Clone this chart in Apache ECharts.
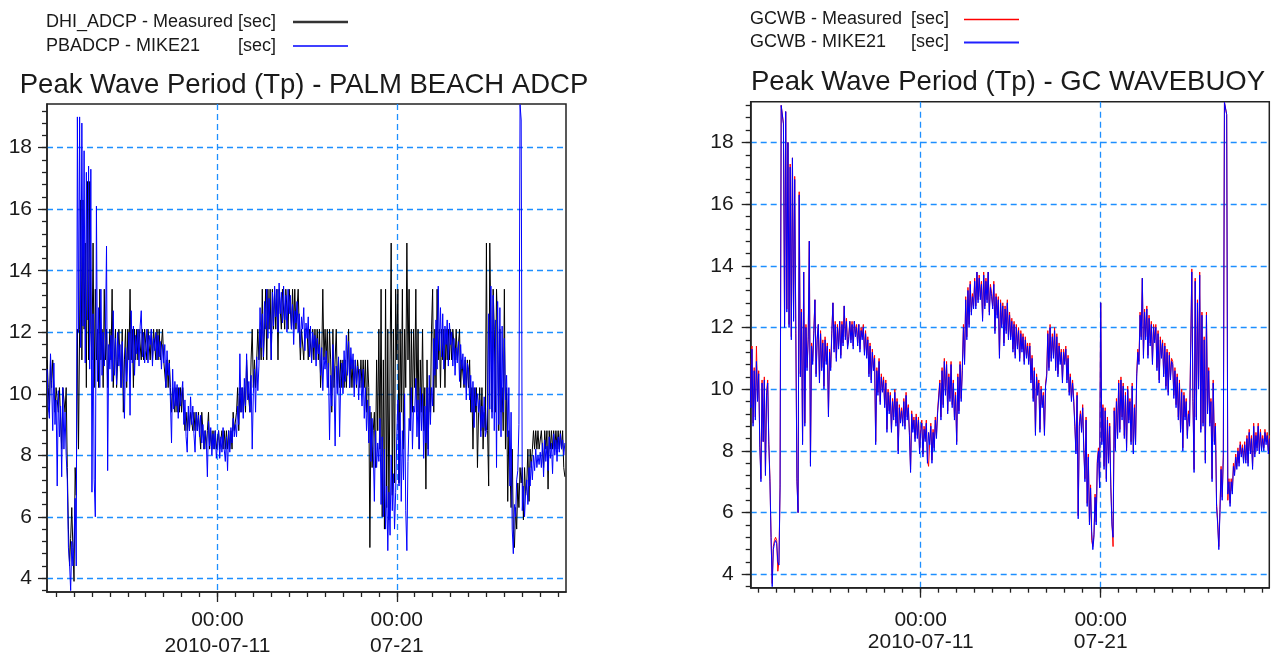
<!DOCTYPE html>
<html><head><meta charset="utf-8">
<script src="https://cdn.jsdelivr.net/npm/echarts@6/dist/echarts.min.js"></script>
<style>html,body{margin:0;padding:0;background:#fff}#c{width:1282px;height:662px}</style>
</head><body><div id="c"></div>
<script>
// ---- sampling: 1.5-hourly values starting 2010-07-01 12:00 (UTC) ----
const startTime = '2010-07-01T12:00:00Z';
const stepHours = 1.5;

// Left panel: DHI_ADCP measured (black)
const adcpMeasured = [
  11.1, 10.2, 9.4, 11.1, 10.2, 11.1, 10.2, 9.4,
  10.2, 10.2, 9.4, 10.2, 10.2, 8.2, 10.2, 10.2, 9.4, 10.2, 7.6, 5.6, 4.4, 5.3, 6.3, 5.0,
  3.9, 7.6, 6.7, 12.1, 8.2, 12.1, 16.3, 11.1, 16.3, 12.1, 14.9, 10.2, 16.9, 11.1, 16.9, 12.1,
  11.1, 14.9, 10.2, 13.4, 11.1, 12.1, 10.2, 13.4, 11.1, 12.1, 10.2, 13.4, 11.1, 12.1, 10.2, 11.1,
  12.1, 11.1, 13.4, 10.2, 11.1, 12.1, 10.2, 11.1, 12.1, 11.1, 10.2, 12.1, 9.4, 11.1, 12.1, 10.2,
  12.1, 11.1, 13.4, 11.1, 12.1, 10.2, 12.1, 11.1, 12.1, 11.1, 12.1, 12.1, 11.1, 12.1, 11.1, 12.1,
  12.1, 11.1, 12.1, 12.1, 11.1, 12.1, 11.1, 12.1, 12.1, 11.1, 12.1, 11.1, 12.1, 11.1, 11.1, 12.1,
  11.1, 11.1, 10.2, 11.1, 10.2, 11.1, 10.2, 9.4, 10.2, 10.2, 9.4, 10.2, 9.4, 10.2, 9.4, 10.2,
  9.4, 10.2, 9.4, 8.8, 9.4, 8.8, 9.4, 8.8, 9.4, 9.4, 8.8, 9.4, 8.8, 9.4, 8.8, 9.4,
  8.8, 8.2, 9.4, 8.8, 8.2, 8.8, 8.2, 8.8, 9.4, 8.2, 8.8, 8.2, 8.8, 8.2, 8.8, 8.2,
  8.2, 8.8, 8.2, 8.2, 8.8, 8.2, 8.8, 8.2, 8.8, 8.2, 8.8, 8.2, 8.8, 8.2, 9.4, 8.8,
  8.8, 9.4, 10.2, 8.8, 10.2, 9.4, 10.2, 9.4, 10.2, 9.4, 11.1, 10.2, 10.2, 9.4, 11.1, 12.1,
  10.2, 11.1, 10.2, 11.1, 12.1, 11.1, 12.1, 11.1, 13.4, 11.1, 12.1, 13.4, 11.1, 13.4, 12.1, 13.4,
  11.1, 13.4, 12.1, 13.4, 12.1, 13.4, 11.1, 13.4, 13.4, 12.1, 13.4, 13.4, 12.1, 13.4, 13.4, 12.1,
  13.4, 13.4, 12.1, 13.4, 12.1, 13.4, 12.1, 12.1, 13.4, 12.1, 11.1, 12.1, 12.1, 11.1, 12.1, 12.1,
  12.1, 11.1, 12.1, 12.1, 11.1, 12.1, 11.1, 12.1, 11.1, 12.1, 11.1, 12.1, 10.2, 11.1, 13.4, 11.1,
  12.1, 11.1, 12.1, 10.2, 12.1, 11.1, 9.4, 12.1, 10.2, 11.1, 12.1, 10.2, 11.1, 10.2, 11.1, 10.2,
  11.1, 10.2, 11.1, 10.2, 11.1, 12.1, 10.2, 11.1, 10.2, 11.1, 10.2, 11.1, 10.2, 11.1, 11.1, 10.2,
  11.1, 10.2, 11.1, 10.2, 11.1, 9.4, 11.1, 10.2, 5.0, 9.4, 7.6, 8.8, 9.4, 7.6, 11.1, 8.8,
  12.1, 8.2, 13.4, 6.0, 11.1, 5.6, 13.4, 6.3, 12.1, 5.9, 11.1, 14.9, 6.7, 12.1, 7.1, 13.4,
  11.1, 13.4, 7.1, 12.1, 9.4, 13.4, 8.2, 12.1, 10.2, 14.9, 11.1, 13.4, 8.8, 12.1, 9.4, 12.1,
  10.2, 13.4, 9.4, 12.1, 8.2, 11.1, 9.4, 12.1, 8.8, 10.2, 6.9, 11.1, 8.2, 10.2, 9.4, 12.1,
  13.4, 9.4, 12.1, 10.2, 13.4, 11.1, 12.1, 10.2, 12.1, 11.1, 12.1, 10.2, 12.1, 11.1, 12.1, 11.1,
  12.1, 11.1, 12.1, 12.1, 11.1, 12.1, 11.1, 11.1, 12.1, 10.2, 11.1, 11.1, 10.2, 11.1, 10.2, 11.1,
  10.2, 11.1, 9.4, 10.2, 8.2, 10.2, 9.4, 10.2, 7.6, 9.4, 10.2, 8.8, 10.2, 8.2, 9.4, 8.8,
  14.9, 8.8, 7.0, 14.9, 12.1, 9.4, 13.4, 12.1, 9.4, 13.4, 12.1, 8.8, 12.1, 9.4, 10.2, 8.8,
  13.4, 8.2, 10.2, 6.5, 8.8, 7.6, 6.3, 8.2, 5.6, 5.0, 6.3, 5.6, 7.1, 6.3, 7.6, 7.1,
  7.6, 5.9, 7.6, 6.7, 7.1, 8.2, 6.5, 8.2, 7.6, 8.2, 8.8, 8.2, 8.8, 8.2, 8.8, 8.2,
  8.2, 8.8, 8.2, 7.6, 8.8, 8.2, 8.8, 6.9, 8.8, 8.2, 8.8, 8.2, 8.8, 8.2, 8.8, 8.2,
  8.8, 8.2, 8.8, 8.2, 8.8, 7.6, 7.3
];
// Left panel: PBADCP MIKE21 (blue)
const pbadcpModel = [
  10.8, 9.6, 9.2, 11.3, 10.4, 8.8, 11.0, 9.0,
  9.8, 7.0, 10.1, 8.6, 9.6, 7.3, 10.2, 8.2, 9.4, 8.0, 7.2, 5.0, 4.5, 3.6, 5.2, 4.4,
  5.2, 6.6, 4.4, 19.0, 12.0, 19.0, 11.5, 18.8, 12.2, 17.9, 11.0, 17.2, 12.4, 17.4, 10.8, 17.3,
  6.8, 12.6, 7.2, 6.0, 16.1, 10.4, 12.8, 10.2, 13.4, 10.6, 12.0, 10.9, 11.8, 14.8, 7.5, 11.6,
  10.8, 11.9, 10.4, 12.7, 10.6, 11.8, 10.3, 12.0, 10.9, 11.6, 10.2, 11.7, 10.5, 9.2, 11.5, 10.4,
  11.2, 12.0, 9.3, 12.7, 11.0, 12.2, 10.6, 11.9, 11.3, 12.1, 10.9, 12.2, 12.7, 11.2, 12.0, 11.0,
  11.4, 12.1, 11.0, 11.9, 11.6, 12.1, 10.9, 11.8, 11.4, 12.0, 11.1, 11.9, 11.2, 11.7, 10.8, 11.6,
  11.0, 11.6, 10.2, 11.4, 10.6, 11.0, 9.8, 8.4, 10.8, 9.5, 10.4, 9.6, 10.3, 9.2, 10.2, 9.6,
  9.6, 10.4, 9.0, 9.8, 8.6, 8.1, 9.6, 8.8, 9.9, 9.0, 9.6, 8.7, 8.1, 9.4, 8.8, 9.3,
  8.6, 9.3, 8.4, 9.0, 8.2, 8.8, 8.5, 7.3, 9.1, 8.3, 8.9, 8.0, 8.7, 8.2, 8.8, 7.9,
  8.3, 8.8, 7.9, 8.6, 8.1, 8.9, 8.2, 7.8, 8.6, 7.5, 8.8, 8.1, 8.9, 8.4, 9.2, 8.6,
  9.0, 8.6, 9.6, 9.0, 11.3, 9.4, 10.2, 9.2, 10.5, 9.6, 11.3, 9.8, 10.4, 9.4, 10.6, 8.2,
  10.0, 10.8, 9.4, 11.2, 10.1, 10.9, 12.8, 11.5, 12.6, 11.2, 13.0, 12.1, 13.4, 11.8, 13.1, 12.4,
  11.1, 13.3, 12.2, 13.5, 12.5, 13.4, 12.0, 13.6, 12.6, 13.3, 12.3, 13.5, 12.4, 13.2, 12.0, 13.4,
  12.6, 13.2, 12.1, 12.9, 11.6, 12.7, 12.3, 13.0, 12.0, 12.6, 11.5, 12.5, 12.1, 12.8, 11.4, 12.3,
  11.8, 12.5, 11.2, 12.2, 11.0, 12.0, 11.5, 11.9, 10.9, 11.8, 11.3, 11.6, 10.6, 11.5, 10.1, 11.2,
  10.8, 11.4, 10.2, 11.0, 8.5, 10.6, 9.6, 11.6, 10.4, 8.3, 10.9, 10.0, 11.2, 8.6, 10.5, 11.0,
  10.0, 11.4, 10.4, 11.9, 10.6, 11.7, 10.2, 11.5, 10.8, 11.3, 9.9, 11.1, 10.3, 10.9, 9.8, 10.8,
  10.4, 9.6, 10.8, 9.2, 10.2, 8.8, 9.8, 8.4, 9.6, 7.8, 9.2, 8.2, 6.5, 8.8, 7.6, 8.4,
  7.8, 9.2, 6.4, 8.6, 6.0, 8.2, 5.6, 7.0, 4.9, 6.8, 5.4, 8.0, 6.2, 7.4, 5.6, 6.8,
  8.6, 9.8, 7.0, 9.4, 6.5, 8.8, 7.2, 10.0, 6.2, 4.9, 7.8, 9.2, 8.8, 10.2, 8.2, 9.6,
  9.4, 10.5, 8.6, 9.8, 8.2, 10.2, 8.8, 10.0, 7.9, 9.6, 8.4, 10.2, 8.0, 10.6, 9.0, 10.2,
  9.6, 11.8, 10.6, 12.4, 10.8, 13.5, 11.4, 12.8, 11.2, 12.6, 10.8, 12.2, 11.6, 12.4, 10.9, 12.3,
  11.6, 12.0, 10.9, 11.8, 10.6, 11.5, 11.0, 11.7, 10.4, 11.6, 10.8, 11.3, 10.3, 11.2, 9.8, 11.0,
  10.8, 9.8, 10.6, 9.4, 10.4, 8.9, 10.2, 9.6, 10.0, 9.4, 9.8, 8.6, 9.6, 8.9, 9.9, 8.6,
  8.8, 9.6, 12.6, 9.5, 13.5, 9.2, 13.2, 8.8, 12.4, 7.6, 13.0, 9.0, 12.8, 8.6, 12.2, 9.4,
  11.8, 9.8, 10.6, 8.6, 10.2, 7.0, 9.4, 5.6, 4.8, 6.4, 6.0, 7.2, 7.5, 9.0, 19.4, 18.9,
  6.2, 7.0, 6.0, 6.8, 7.2, 6.4, 7.6, 7.0, 7.8, 7.2, 8.0, 7.5, 8.2, 7.6, 8.0, 7.7,
  8.1, 7.6, 8.4, 7.3, 8.5, 7.8, 8.3, 7.5, 8.6, 7.9, 8.4, 7.4, 8.7, 8.0, 8.5, 7.8,
  8.6, 8.1, 8.7, 8.2, 8.5, 8.0, 8.4
];
// Right panel: GCWB measured (red)
const gcwbMeasured = [
  11.0, 9.5, 11.4, 8.9, 10.7, 9.1, 11.4, 9.7,
  10.6, 8.2, 7.1, 10.3, 8.3, 10.4, 7.3, 9.9, 10.3, 8.3, 7.1, 5.2, 3.7, 4.9, 5.1, 5.2,
  5.1, 4.1, 4.4, 6.9, 19.2, 19.2, 18.6, 12.1, 19.0, 12.6, 18.0, 12.1, 17.3, 11.7, 17.5, 12.3,
  16.9, 11.9, 7.1, 6.0, 16.4, 10.5, 12.6, 8.3, 13.8, 8.9, 12.1, 10.7, 11.7, 14.8, 7.6, 11.5,
  10.9, 11.9, 12.9, 10.5, 11.7, 12.1, 10.3, 11.9, 10.7, 11.6, 10.1, 11.7, 10.9, 11.5, 9.2, 11.3,
  10.7, 11.9, 12.8, 11.3, 12.2, 11.0, 12.1, 11.4, 12.2, 11.1, 12.2, 11.5, 12.7, 11.7, 12.3, 11.4,
  11.7, 12.2, 11.6, 12.2, 11.4, 12.2, 11.8, 12.1, 11.5, 12.1, 11.3, 12.0, 11.7, 12.1, 11.2, 11.9,
  11.1, 11.7, 10.5, 11.5, 10.3, 11.3, 10.7, 11.1, 8.3, 10.7, 9.9, 11.0, 9.6, 10.5, 10.0, 10.4,
  9.5, 10.3, 8.7, 10.0, 9.3, 9.9, 8.7, 9.7, 9.1, 10.0, 8.9, 9.7, 8.0, 9.5, 9.0, 9.4,
  8.9, 9.7, 8.8, 9.9, 9.1, 9.5, 8.6, 7.4, 9.3, 8.7, 9.1, 8.4, 9.2, 8.5, 9.1, 8.0,
  8.7, 9.0, 7.9, 8.8, 8.4, 9.0, 7.7, 7.5, 8.3, 8.9, 7.7, 8.7, 8.1, 9.1, 8.5, 9.3,
  9.3, 10.3, 9.1, 10.7, 9.5, 11.0, 9.9, 10.9, 9.3, 10.5, 9.7, 10.9, 9.5, 10.3, 9.1, 9.9,
  8.3, 10.5, 9.3, 10.9, 9.7, 10.7, 12.1, 10.9, 13.0, 11.7, 13.3, 12.1, 13.5, 12.5, 13.1, 12.7,
  13.6, 12.7, 13.8, 12.9, 13.7, 13.0, 13.5, 12.3, 13.8, 12.7, 13.6, 12.9, 13.8, 12.5, 13.4, 13.1,
  12.7, 13.5, 11.9, 13.1, 12.4, 13.0, 11.1, 12.9, 12.1, 12.8, 11.5, 12.7, 11.9, 12.9, 11.7, 12.5,
  11.7, 12.3, 11.3, 12.2, 11.1, 12.1, 11.4, 12.0, 11.0, 11.9, 11.3, 11.8, 10.9, 11.7, 11.1, 11.5,
  10.9, 11.5, 10.3, 11.1, 9.7, 10.7, 8.6, 10.5, 9.9, 10.3, 8.7, 10.1, 9.5, 9.9, 8.6, 10.2,
  10.5, 11.9, 10.7, 12.1, 11.0, 11.8, 11.1, 12.0, 10.7, 11.8, 10.5, 11.5, 10.9, 11.3, 10.3, 11.3,
  10.9, 11.4, 10.3, 11.1, 9.9, 10.5, 9.7, 10.3, 9.7, 8.9, 8.0, 9.9, 5.9, 8.9, 9.3, 8.7,
  9.5, 8.1, 7.1, 9.1, 6.3, 7.9, 5.7, 6.9, 5.1, 4.9, 5.3, 6.6, 5.7, 7.7, 8.1, 6.9,
  12.8, 8.3, 9.5, 7.5, 9.4, 7.1, 9.1, 7.7, 8.9, 6.9, 5.7, 4.9, 9.4, 8.1, 9.7, 8.5,
  10.3, 8.7, 10.4, 9.1, 10.2, 8.5, 9.9, 8.1, 10.1, 9.0, 9.7, 8.3, 10.2, 8.0, 9.5, 8.3,
  10.5, 11.3, 10.9, 12.5, 11.7, 13.6, 11.1, 12.6, 11.7, 12.7, 11.1, 12.4, 11.5, 12.2, 10.9, 12.1,
  11.6, 12.1, 10.7, 11.9, 10.3, 11.7, 11.1, 11.6, 10.5, 11.5, 10.1, 11.3, 9.9, 11.2, 10.4, 11.0,
  10.9, 9.8, 10.7, 9.5, 10.5, 9.1, 10.3, 8.7, 10.0, 8.1, 9.9, 9.1, 9.7, 8.5, 9.3, 8.9,
  8.9, 13.9, 9.7, 7.4, 13.6, 9.1, 12.9, 10.1, 13.8, 8.7, 12.5, 8.9, 11.7, 7.7, 12.5, 9.3,
  10.7, 8.9, 9.7, 7.1, 10.3, 8.3, 8.9, 6.3, 5.7, 4.9, 6.1, 7.5, 6.5, 7.9, 19.3, 19.3,
  18.9, 6.4, 7.1, 6.3, 7.1, 6.7, 7.6, 7.3, 7.9, 7.5, 8.1, 7.6, 8.3, 7.9, 8.2, 7.7,
  8.3, 7.7, 8.5, 7.6, 8.7, 8.0, 8.5, 7.5, 8.9, 7.9, 8.6, 8.1, 8.9, 8.0, 8.7, 8.1,
  8.5, 8.1, 8.7, 8.3, 8.6, 8.0, 8.5
];
// Right panel: GCWB MIKE21 (blue)
const gcwbModel = [
  10.8, 9.4, 11.3, 8.8, 10.6, 9.0, 10.9, 9.6,
  10.5, 8.1, 7.0, 10.2, 8.3, 10.3, 7.2, 9.8, 10.2, 8.2, 7.0, 5.2, 3.6, 4.8, 5.0, 5.1,
  5.0, 4.4, 4.3, 6.8, 19.2, 19.2, 18.6, 12.0, 19.0, 12.5, 18.0, 12.0, 17.2, 11.6, 17.5, 12.2,
  16.8, 11.8, 7.0, 6.0, 16.3, 10.4, 12.5, 8.2, 13.8, 8.8, 12.0, 10.6, 11.6, 14.8, 7.5, 11.4,
  10.8, 11.8, 12.9, 10.4, 11.6, 12.1, 10.2, 11.8, 10.6, 11.5, 10.0, 11.6, 10.8, 11.4, 9.1, 11.2,
  10.6, 11.8, 12.8, 11.2, 12.1, 10.9, 12.0, 11.3, 12.2, 11.0, 12.1, 11.4, 12.7, 11.6, 12.2, 11.3,
  11.6, 12.2, 11.5, 12.1, 11.3, 12.2, 11.7, 12.0, 11.4, 12.1, 11.2, 11.9, 11.6, 12.0, 11.1, 11.8,
  11.0, 11.6, 10.4, 11.4, 10.2, 11.2, 10.6, 11.0, 8.2, 10.6, 9.8, 10.9, 9.5, 10.4, 9.9, 10.3,
  9.4, 10.2, 8.6, 9.9, 9.2, 9.8, 8.6, 9.6, 9.0, 9.9, 8.8, 9.6, 7.9, 9.4, 8.9, 9.3,
  8.8, 9.6, 8.7, 9.8, 9.0, 9.4, 8.5, 7.3, 9.2, 8.6, 9.0, 8.3, 9.1, 8.4, 9.0, 7.9,
  8.6, 8.9, 7.8, 8.7, 8.3, 8.9, 7.6, 8.6, 8.2, 8.8, 7.6, 8.6, 8.0, 9.0, 8.4, 9.2,
  9.2, 10.2, 9.0, 10.6, 9.4, 10.9, 9.8, 10.8, 9.2, 10.4, 9.6, 10.8, 9.4, 10.2, 9.0, 9.8,
  8.2, 10.4, 9.2, 10.8, 9.6, 10.6, 12.0, 10.8, 12.9, 11.6, 13.2, 12.0, 13.4, 12.4, 13.0, 12.6,
  13.5, 12.6, 13.8, 12.8, 13.6, 12.9, 13.4, 12.2, 13.7, 12.6, 13.5, 12.8, 13.8, 12.4, 13.3, 13.0,
  12.6, 13.4, 11.8, 13.0, 12.3, 12.9, 11.0, 12.8, 12.0, 12.7, 11.4, 12.6, 11.8, 12.8, 11.6, 12.4,
  11.6, 12.2, 11.2, 12.1, 11.0, 12.0, 11.3, 11.9, 10.9, 11.8, 11.2, 11.7, 10.8, 11.6, 11.0, 11.4,
  10.8, 11.4, 10.2, 11.0, 9.6, 10.6, 8.5, 10.4, 9.8, 10.2, 8.6, 10.0, 9.4, 9.8, 8.5, 10.1,
  10.4, 11.8, 10.6, 12.0, 10.9, 11.7, 11.0, 11.9, 10.6, 11.7, 10.4, 11.4, 10.8, 11.2, 10.2, 11.2,
  10.8, 11.3, 10.2, 11.0, 9.8, 10.4, 9.6, 10.2, 9.6, 8.8, 7.9, 9.8, 5.8, 8.8, 9.2, 8.6,
  9.4, 8.0, 7.0, 9.0, 6.2, 7.8, 5.6, 6.8, 5.4, 4.8, 5.2, 6.5, 5.6, 7.6, 8.0, 6.8,
  12.8, 8.2, 9.4, 7.4, 9.3, 7.0, 9.0, 7.6, 8.8, 6.8, 5.6, 5.2, 9.3, 8.0, 9.6, 8.4,
  10.2, 8.6, 10.3, 9.0, 10.1, 8.4, 9.8, 8.0, 10.0, 8.9, 9.6, 8.2, 10.1, 7.9, 9.4, 8.2,
  10.4, 11.2, 10.8, 12.4, 11.6, 13.6, 11.0, 12.5, 11.6, 12.6, 11.0, 12.3, 11.4, 12.1, 10.8, 12.0,
  11.5, 12.0, 10.6, 11.8, 10.2, 11.6, 11.0, 11.5, 10.4, 11.4, 10.0, 11.2, 9.8, 11.1, 10.3, 10.9,
  10.8, 9.7, 10.6, 9.4, 10.4, 9.0, 10.2, 8.6, 9.9, 8.0, 9.8, 9.0, 9.6, 8.4, 9.2, 8.8,
  8.8, 13.8, 9.6, 7.3, 13.5, 9.0, 12.8, 10.0, 13.7, 8.6, 12.4, 8.8, 11.6, 7.6, 12.4, 9.2,
  10.6, 8.8, 9.6, 7.0, 10.2, 8.2, 8.8, 6.2, 5.6, 4.8, 6.0, 7.4, 6.4, 7.8, 19.3, 19.3,
  18.9, 6.6, 7.0, 6.2, 7.0, 6.6, 7.5, 7.2, 7.8, 7.4, 8.0, 7.5, 8.2, 7.8, 8.1, 7.6,
  8.2, 7.6, 8.4, 7.5, 8.6, 7.9, 8.4, 7.4, 8.8, 7.8, 8.5, 8.0, 8.8, 7.9, 8.6, 8.0,
  8.4, 8.0, 8.6, 8.2, 8.5, 7.9, 8.4
];

// ---- axis texts ----
const yTickValues = [4, 6, 8, 10, 12, 14, 16, 18];
const xLabelDates = ['2010-07-11T00:00:00Z', '2010-07-21T00:00:00Z'];
const xLabelTexts = ['00:00\n2010-07-11', '00:00\n07-21'];
const titles = ['Peak Wave Period (Tp) - PALM BEACH ADCP', 'Peak Wave Period (Tp) - GC WAVEBUOY'];
const seriesNames = ['DHI_ADCP - Measured', 'PBADCP - MIKE21', 'GCWB - Measured', 'GCWB - MIKE21'];
const unitText = '[sec]';

// ---- build ----
const FONT = "'Liberation Sans', Arial, sans-serif";
const TXT = '#1a1a1a';
const T0 = Date.parse(startTime);
const STEP = stepHours * 3600e3;
const DAY = 86400e3;
const pairs = arr => arr.map((v, i) => [T0 + i * STEP, v]);
const dayTicks = [];
for (let t = Date.parse('2010-07-01T00:00:00Z'); t <= Date.parse('2010-07-31T00:00:00Z'); t += DAY) dayTicks.push(t);
const labelTicks = xLabelDates.map(d => Date.parse(d));
const minorY = [];
for (let k = 8; k <= 49; k++) minorY.push(+(k * 0.4).toFixed(1));

const panels = [
  { grid: { left: 47, top: 104, width: 519, height: 488 },
    x: ['2010-07-01T11:50:00Z', '2010-07-30T10:30:00Z'], y: [3.555, 19.42],
    xMargin: 15.4, xLH: 25.6, yMargin: 15 },
  { grid: { left: 750.7, top: 101.7, width: 518.6, height: 486 },
    x: ['2010-07-01T13:20:00Z', '2010-07-30T08:48:00Z'], y: [3.566, 19.32],
    xMargin: 21, xLH: 22.3, yMargin: 17 }
];

const grid = [], xAxis = [], yAxis = [];
const gridLine = { show: true, lineStyle: { color: '#1e8fff', width: 1.3, type: [6, 4] } };
panels.forEach((p, g) => {
  grid.push(Object.assign({ show: true, borderColor: '#222', borderWidth: 1.5, backgroundColor: 'transparent' }, p.grid));
  const xmin = Date.parse(p.x[0]), xmax = Date.parse(p.x[1]);
  xAxis.push({ type: 'value', gridIndex: g, position: 'bottom', min: xmin, max: xmax,
    axisLine: { show: true, lineStyle: { color: '#222', width: 1.5 } },
    axisTick: { show: true, inside: false, customValues: dayTicks, length: 5, lineStyle: { color: '#222', width: 1.3 } },
    axisLabel: { show: false }, splitLine: { show: false } });
  xAxis.push({ type: 'value', gridIndex: g, position: 'bottom', min: xmin, max: xmax,
    axisLine: { show: false },
    axisTick: { show: true, inside: false, customValues: labelTicks, length: 10, lineStyle: { color: '#222', width: 1.3 } },
    axisLabel: { show: true, customValues: labelTicks, margin: p.xMargin, fontSize: 21, lineHeight: p.xLH,
      fontFamily: FONT, color: TXT,
      formatter: v => { const i = labelTicks.indexOf(v); return i >= 0 ? xLabelTexts[i] : ''; } },
    splitLine: gridLine });
  yAxis.push({ type: 'value', gridIndex: g, position: 'left', min: p.y[0], max: p.y[1],
    axisLine: { show: true, lineStyle: { color: '#222', width: 1.5 } },
    axisTick: { show: true, inside: false, customValues: yTickValues, length: 9, lineStyle: { color: '#222', width: 1.3 } },
    axisLabel: { show: true, customValues: yTickValues, margin: p.yMargin, fontSize: 21, fontFamily: FONT, color: TXT },
    splitLine: gridLine });
  yAxis.push({ type: 'value', gridIndex: g, position: 'left', min: p.y[0], max: p.y[1],
    axisLine: { show: false },
    axisTick: { show: true, inside: false, customValues: minorY, length: 5, lineStyle: { color: '#222', width: 1.3 } },
    axisLabel: { show: false }, splitLine: { show: false } });
});

const lineSeries = (name, data, color, g) => ({
  type: 'line', name, data: pairs(data), xAxisIndex: g * 2, yAxisIndex: g * 2,
  showSymbol: false, symbol: 'none', clip: true, animation: false,
  lineStyle: { color, width: 1 }, itemStyle: { color }
});

const series = [
  lineSeries(seriesNames[0], adcpMeasured, '#000000', 0),
  lineSeries(seriesNames[1], pbadcpModel, '#0000ff', 0),
  lineSeries(seriesNames[2], gcwbMeasured, '#ff0000', 1),
  lineSeries(seriesNames[3], gcwbModel, '#0000ff', 1)
];

const legendDefs = [
  { name: seriesNames[0], left: 46, top: 13, nW: 192, uW: 50, icon: 'path://M0,0L55,0L55,2.4L0,2.4Z', color: '#333' },
  { name: seriesNames[1], left: 46, top: 37, nW: 192, uW: 50, icon: 'path://M0,0L55,0L55,1.3L0,1.3Z', color: '#0000ff' },
  { name: seriesNames[2], left: 750, top: 10.5, nW: 161, uW: 48, icon: 'path://M0,0L55,0L55,1.6L0,1.6Z', color: '#ff0000' },
  { name: seriesNames[3], left: 750, top: 33.5, nW: 161, uW: 48, icon: 'path://M0,0L55,0L55,2.2L0,2.2Z', color: '#2020ff' }
];
const legend = legendDefs.map(d => ({
  data: [{ name: d.name, icon: d.icon, itemStyle: { color: d.color } }],
  left: d.left, top: d.top, orient: 'vertical', align: 'right', padding: 0,
  itemWidth: 55, itemHeight: 20, selectedMode: false, symbolKeepAspect: true,
  formatter: n => '{n|' + n + '}{u|' + unitText + '}',
  textStyle: { fontSize: 18, fontFamily: FONT, color: TXT,
    rich: { n: { width: d.nW, align: 'left', fontSize: 18, fontFamily: FONT, color: TXT },
            u: { width: d.uW, align: 'left', fontSize: 18, fontFamily: FONT, color: TXT } } }
}));

const title = [
  { text: titles[0], left: 299, top: 66, textAlign: 'center', padding: 5,
    textStyle: { fontSize: 27.5, fontWeight: 'normal', fontFamily: FONT, color: TXT } },
  { text: titles[1], left: 1003, top: 63, textAlign: 'center', padding: 5,
    textStyle: { fontSize: 27.5, fontWeight: 'normal', fontFamily: FONT, color: TXT } }
];

const chart = echarts.init(document.getElementById('c'), null, { renderer: 'canvas' });
chart.setOption({ animation: false, backgroundColor: '#fff', title, legend, grid, xAxis, yAxis, series });
</script>
</body></html>
